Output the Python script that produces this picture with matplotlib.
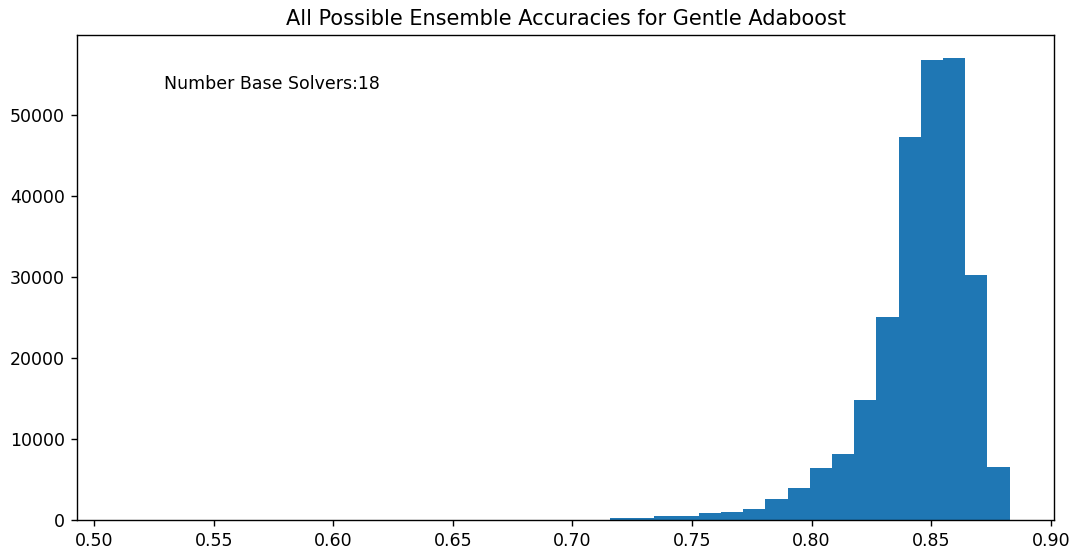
import numpy as np
import matplotlib
matplotlib.use("Agg")
import matplotlib.pyplot as plt

# Histogram of ensemble accuracies: 40 equal-width bins between min and max accuracy
acc_min = 0.5115
acc_max = 0.8828
n_bins = 40
bin_counts = [
    1, 0, 0, 0, 0, 0, 0, 0, 0, 0,
    0, 0, 0, 0, 0, 0, 0, 0, 0, 0,
    0, 0, 170, 170, 490, 500, 790, 950, 1280, 2520,
    3870, 6340, 8100, 14760, 25040, 47320, 56820, 57030, 30180, 6540,
]
n_solvers = 18

edges = np.linspace(acc_min, acc_max, n_bins + 1)
centers = 0.5 * (edges[:-1] + edges[1:])

dpi = 125
fig = plt.figure(figsize=(1077 / dpi, 552 / dpi), dpi=dpi)
ax = fig.add_axes([0.0718, 0.0585, 0.9068, 0.8781])
ax.hist(centers, bins=edges, weights=bin_counts, color="#1f77b4")
ax.set_title("All Possible Ensemble Accuracies for Gentle Adaboost")
ax.text(0.529, 53200, f"Number Base Solvers:{n_solvers}")

fig.savefig("out.png", dpi=dpi)
